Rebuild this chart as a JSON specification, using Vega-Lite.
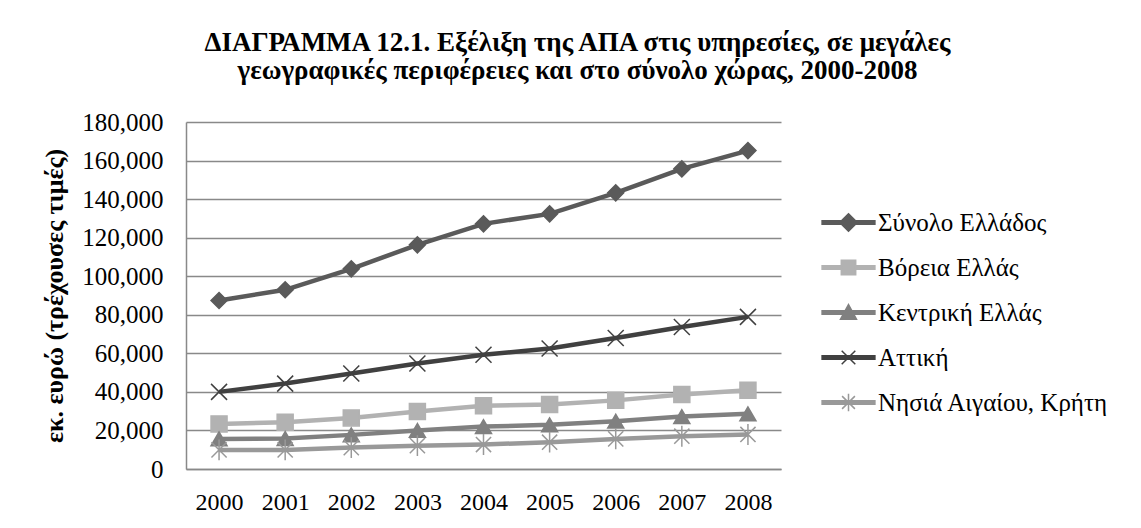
{
  "$schema": "https://vega.github.io/schema/vega-lite/v6.json",
  "width": 595,
  "height": 347,
  "autosize": {"type": "none"},
  "padding": {"left": 186, "top": 122, "right": 360, "bottom": 59},
  "background": "white",
  "title": {
    "text": ["ΔΙΑΓΡΑΜΜΑ 12.1. Εξέλιξη της ΑΠΑ στις υπηρεσίες, σε μεγάλες", "γεωγραφικές περιφέρειες και στο σύνολο χώρας, 2000-2008"],
    "font": "Liberation Serif",
    "fontSize": 27,
    "fontWeight": "bold",
    "color": "#000000",
    "anchor": "middle",
    "frame": "group",
    "dx": 94,
    "lineHeight": 28,
    "offset": 25
  },
  "config": {
    "view": {"stroke": null},
    "font": "Liberation Serif"
  },
  "data": {
    "values": [
      {"year": "2000", "series": "Σύνολο  Ελλάδος", "value": 87430},
      {"year": "2001", "series": "Σύνολο  Ελλάδος", "value": 92960},
      {"year": "2002", "series": "Σύνολο  Ελλάδος", "value": 103840},
      {"year": "2003", "series": "Σύνολο  Ελλάδος", "value": 116290},
      {"year": "2004", "series": "Σύνολο  Ελλάδος", "value": 127170},
      {"year": "2005", "series": "Σύνολο  Ελλάδος", "value": 132350},
      {"year": "2006", "series": "Σύνολο  Ελλάδος", "value": 143240},
      {"year": "2007", "series": "Σύνολο  Ελλάδος", "value": 155680},
      {"year": "2008", "series": "Σύνολο  Ελλάδος", "value": 165180},
      {"year": "2000", "series": "Βόρεια Ελλάς", "value": 23400},
      {"year": "2001", "series": "Βόρεια Ελλάς", "value": 24300},
      {"year": "2002", "series": "Βόρεια Ελλάς", "value": 26500},
      {"year": "2003", "series": "Βόρεια Ελλάς", "value": 29800},
      {"year": "2004", "series": "Βόρεια Ελλάς", "value": 32800},
      {"year": "2005", "series": "Βόρεια Ελλάς", "value": 33500},
      {"year": "2006", "series": "Βόρεια Ελλάς", "value": 35600},
      {"year": "2007", "series": "Βόρεια Ελλάς", "value": 38700},
      {"year": "2008", "series": "Βόρεια Ελλάς", "value": 40800},
      {"year": "2000", "series": "Κεντρική Ελλάς", "value": 15600},
      {"year": "2001", "series": "Κεντρική Ελλάς", "value": 15800},
      {"year": "2002", "series": "Κεντρική Ελλάς", "value": 17700},
      {"year": "2003", "series": "Κεντρική Ελλάς", "value": 20000},
      {"year": "2004", "series": "Κεντρική Ελλάς", "value": 22000},
      {"year": "2005", "series": "Κεντρική Ελλάς", "value": 22900},
      {"year": "2006", "series": "Κεντρική Ελλάς", "value": 24800},
      {"year": "2007", "series": "Κεντρική Ελλάς", "value": 27200},
      {"year": "2008", "series": "Κεντρική Ελλάς", "value": 28600},
      {"year": "2000", "series": "Αττική", "value": 40000},
      {"year": "2001", "series": "Αττική", "value": 44300},
      {"year": "2002", "series": "Αττική", "value": 49500},
      {"year": "2003", "series": "Αττική", "value": 54700},
      {"year": "2004", "series": "Αττική", "value": 59300},
      {"year": "2005", "series": "Αττική", "value": 62500},
      {"year": "2006", "series": "Αττική", "value": 68000},
      {"year": "2007", "series": "Αττική", "value": 73700},
      {"year": "2008", "series": "Αττική", "value": 78900},
      {"year": "2000", "series": "Νησιά Αιγαίου, Κρήτη", "value": 9900},
      {"year": "2001", "series": "Νησιά Αιγαίου, Κρήτη", "value": 9900},
      {"year": "2002", "series": "Νησιά Αιγαίου, Κρήτη", "value": 11100},
      {"year": "2003", "series": "Νησιά Αιγαίου, Κρήτη", "value": 12100},
      {"year": "2004", "series": "Νησιά Αιγαίου, Κρήτη", "value": 12700},
      {"year": "2005", "series": "Νησιά Αιγαίου, Κρήτη", "value": 13900},
      {"year": "2006", "series": "Νησιά Αιγαίου, Κρήτη", "value": 15600},
      {"year": "2007", "series": "Νησιά Αιγαίου, Κρήτη", "value": 17000},
      {"year": "2008", "series": "Νησιά Αιγαίου, Κρήτη", "value": 17900}
    ]
  },
  "encoding": {
    "x": {
      "field": "year",
      "type": "ordinal",
      "scale": {"type": "point", "padding": 0.5},
      "axis": {
        "title": null,
        "labelAngle": 0,
        "labelFont": "Liberation Serif",
        "labelFontSize": 24,
        "labelColor": "#000000",
        "labelPadding": 21,
        "ticks": false,
        "domainColor": "#898989",
        "domainWidth": 1.5,
        "grid": false
      }
    },
    "y": {
      "field": "value",
      "type": "quantitative",
      "scale": {"domain": [0, 180000], "nice": false},
      "axis": {
        "title": "εκ. ευρώ (τρέχουσες τιμές)",
        "titleFont": "Liberation Serif",
        "titleFontSize": 26,
        "titleFontWeight": "bold",
        "titleColor": "#000000",
        "titlePadding": 14,
        "values": [0, 20000, 40000, 60000, 80000, 100000, 120000, 140000, 160000, 180000],
        "format": ",.0f",
        "labelFont": "Liberation Serif",
        "labelFontSize": 25,
        "labelColor": "#000000",
        "labelPadding": 23,
        "ticks": false,
        "domainColor": "#898989",
        "domainWidth": 1.5,
        "gridColor": "#898989",
        "gridWidth": 1.5
      }
    },
    "color": {
      "field": "series",
      "type": "nominal",
      "sort": ["Σύνολο  Ελλάδος", "Βόρεια Ελλάς", "Κεντρική Ελλάς", "Αττική", "Νησιά Αιγαίου, Κρήτη"],
      "scale": {
        "domain": ["Σύνολο  Ελλάδος", "Βόρεια Ελλάς", "Κεντρική Ελλάς", "Αττική", "Νησιά Αιγαίου, Κρήτη"],
        "range": ["#5a5a5a", "#b2b2b2", "#808080", "#404040", "#999999"]
      },
      "legend": {
        "orient": "none",
        "legendX": 650,
        "legendY": 88,
        "title": null,
        "padding": 0,
        "labelFont": "Liberation Serif",
        "labelFontSize": 25,
        "labelColor": "#000000",
        "labelLimit": 400,
        "labelOffset": 17,
        "symbolSize": 256,
        "rowPadding": 19,
        "encode": {
          "symbols": {
            "update": {
              "shape": {"signal": "['M-3.3,-0.22H3.3V0.22H-3.3Z M0,-1.1L1.1,0L0,1.1L-1.1,0Z','M-3.3,-0.22H3.3V0.22H-3.3Z M-0.9,-0.9H0.9V0.9H-0.9Z','M-3.3,-0.22H3.3V0.22H-3.3Z M0,-1L1,0.85H-1Z','M-3.3,-0.22H3.3V0.22H-3.3Z M-0.85,-0.85L0.85,0.85M-0.85,0.85L0.85,-0.85','M-3.3,-0.22H3.3V0.22H-3.3Z M-0.8,-0.8L0.8,0.8M-0.8,0.8L0.8,-0.8M0,-1.1V1.1'][indexof(['Σύνολο  Ελλάδος','Βόρεια Ελλάς','Κεντρική Ελλάς','Αττική','Νησιά Αιγαίου, Κρήτη'], datum.value)]"},
              "fill": {"scale": "color", "field": "value"},
              "stroke": {"scale": "color", "field": "value"},
              "strokeWidth": {"value": 1.5},
              "opacity": {"value": 1},
              "fillOpacity": {"value": 1}
            }
          }
        }
      }
    }
  },
  "layer": [
    {
      "mark": {"type": "line", "strokeWidth": 4.5}
    },
    {
      "mark": {"type": "point", "filled": true, "size": 256, "strokeWidth": 1.5, "opacity": 1},
      "encoding": {
        "shape": {
          "field": "series",
          "type": "nominal",
          "scale": {
            "domain": ["Νησιά Αιγαίου, Κρήτη", "Αττική", "Κεντρική Ελλάς", "Βόρεια Ελλάς", "Σύνολο  Ελλάδος"],
            "range": ["M-0.95,-0.95L0.95,0.95M-0.95,0.95L0.95,-0.95M0,-1.3V1.3", "M-1,-1L1,1M-1,1L1,-1", "triangle-up", "square", "diamond"]
          },
          "legend": null
        },
        "stroke": {
          "field": "series",
          "type": "nominal",
          "scale": {
            "domain": ["Αττική", "Νησιά Αιγαίου, Κρήτη", "Κεντρική Ελλάς", "Βόρεια Ελλάς", "Σύνολο  Ελλάδος"],
            "range": ["#404040", "#999999", "#808080", "#b2b2b2", "#5a5a5a"]
          },
          "legend": null
        }
      }
    }
  ]
}
